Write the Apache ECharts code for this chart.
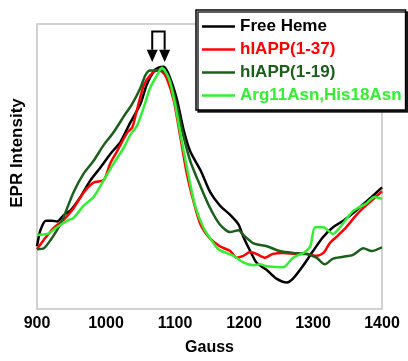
<!DOCTYPE html>
<html>
<head>
<meta charset="utf-8">
<script src="https://cdn.jsdelivr.net/npm/echarts@6/dist/echarts.min.js"></script>
<style>html,body{margin:0;padding:0;background:#fff;}#c{width:408px;height:361px;}</style>
</head>
<body>
<div id="c"></div>
<script>
var FONT = 'Liberation Sans, Arial, sans-serif';
var seriesNames = ['Free Heme', 'hIAPP(1-37)', 'hIAPP(1-19)', 'Arg11Asn,His18Asn'];
var seriesColors = ['#000000', '#ff0000', '#1c5e1c', '#33ee33'];
var xTicks = [900, 1000, 1100, 1200, 1300, 1400];

var freeHeme = [[900,66],[905,83],[913,93],[922,93],[929,92],[939,99],[949,104],[963,118],[978,136],[992,149],[1006,163],[1021,176],[1035,196],[1050,216],[1059,236],[1069,250],[1076,254],[1084,255],[1093,243],[1103,220],[1112,190],[1122,166],[1137,146],[1151,123],[1165,109],[1180,99],[1192,89],[1199,76],[1209,61],[1218,49],[1233,41],[1247,32],[1262,28],[1271,32],[1286,46],[1300,61],[1315,76],[1329,86],[1344,93],[1363,104],[1382,116],[1400,128]];
var hiapp137 = [[900,63],[910,73],[925,86],[939,94],[953,106],[968,123],[982,133],[997,136],[1006,153],[1016,166],[1031,186],[1038,191],[1045,210],[1055,236],[1064,246],[1074,251],[1081,250],[1088,243],[1098,220],[1108,180],[1117,143],[1127,113],[1137,89],[1151,74],[1165,66],[1180,61],[1189,54],[1199,56],[1209,60],[1218,58],[1230,54],[1242,58],[1257,59],[1276,58],[1291,58],[1305,56],[1315,59],[1324,69],[1334,76],[1348,86],[1363,99],[1377,109],[1400,124]];
var hiapp119 = [[900,63],[910,64],[920,73],[929,83],[937,94],[953,123],[968,143],[982,156],[997,173],[1011,186],[1026,203],[1038,216],[1050,233],[1057,246],[1064,251],[1074,251],[1084,250],[1093,240],[1103,213],[1112,183],[1122,156],[1137,129],[1151,106],[1165,89],[1180,81],[1192,83],[1199,78],[1214,69],[1233,66],[1252,61],[1271,59],[1291,58],[1305,54],[1317,47],[1329,53],[1344,55],[1358,57],[1373,64],[1385,61],[1400,65]];
var argHis = [[900,78],[915,79],[929,86],[944,93],[953,96],[968,109],[982,118],[997,136],[1011,153],[1026,170],[1035,183],[1045,193],[1055,213],[1064,233],[1074,246],[1081,254],[1091,243],[1100,216],[1110,176],[1120,139],[1129,109],[1141,86],[1156,69],[1165,62],[1185,56],[1199,49],[1214,46],[1223,47],[1233,45],[1257,44],[1271,54],[1286,59],[1296,66],[1303,86],[1315,86],[1329,79],[1339,86],[1358,103],[1377,111],[1389,118],[1400,116]];
var seriesData = [freeHeme, hiapp137, hiapp119, argHis];

// Arrow annotation: positions in Gauss and intensity units
var arrowGauss = [1067, 1085];
var arrowTipValue = 260;
var arrowHeadTopValue = 273;
var bracketTopValue = 292;

var chart = echarts.init(document.getElementById('c'), null, {renderer: 'canvas'});

var series = seriesNames.map(function (n, i) {
  return {
    name: n, type: 'line', data: seriesData[i], symbol: 'none', smooth: 0.25,
    lineStyle: {color: seriesColors[i], width: 2.5},
    itemStyle: {color: seriesColors[i]},
    z: 2 + i
  };
});

chart.setOption({
  animation: false,
  backgroundColor: '#ffffff',
  grid: {left: 37, right: 26, top: 24, bottom: 39, show: true, borderColor: '#c4c4c4', borderWidth: 1.5, backgroundColor: 'transparent'},
  xAxis: {
    type: 'value', min: 900, max: 1400, interval: 100,
    axisLine: {show: false}, axisTick: {show: false}, splitLine: {show: false},
    axisLabel: {color: '#000', fontFamily: FONT, fontWeight: 'bold', fontSize: 16, margin: 7,
      formatter: function (v) { return xTicks.indexOf(v) >= 0 ? String(v) : ''; }},
    name: 'Gauss', nameLocation: 'middle', nameGap: 31,
    nameTextStyle: {color: '#000', fontFamily: FONT, fontWeight: 'bold', fontSize: 16}
  },
  yAxis: {
    type: 'value', min: 0, max: 300,
    axisLine: {show: false}, axisTick: {show: false}, splitLine: {show: false},
    axisLabel: {show: false}
  },
  legend: {
    orient: 'vertical', left: 196, top: 10,
    padding: [5, 4, 3, 6], itemGap: 0, itemWidth: 33, itemHeight: 2.5, icon: 'rect',
    backgroundColor: '#fff', borderColor: '#000', borderWidth: 1.5,
    shadowColor: 'rgba(0,0,0,0.85)', shadowOffsetX: 2, shadowOffsetY: 2, shadowBlur: 0,
    data: seriesNames.map(function (n, i) {
      return {name: n, textStyle: {color: seriesColors[i]}};
    }),
    textStyle: {fontFamily: FONT, fontWeight: 'bold', fontSize: 17, lineHeight: 23, padding: [0, 0, 0, 0]}
  },
  series: series
});

// Arrows placed via the chart's scales
var g = [];
var tipY = chart.convertToPixel({gridIndex: 0}, [arrowGauss[0], arrowTipValue])[1];
var headY = chart.convertToPixel({gridIndex: 0}, [arrowGauss[0], arrowHeadTopValue])[1];
var topY = chart.convertToPixel({gridIndex: 0}, [arrowGauss[0], bracketTopValue])[1];
var xs = arrowGauss.map(function (gv) { return chart.convertToPixel({gridIndex: 0}, [gv, 0])[0]; });
g.push({type: 'polyline', shape: {points: [[xs[0], headY], [xs[0], topY], [xs[1], topY], [xs[1], headY]]},
  style: {stroke: '#000', lineWidth: 2, fill: null}, z: 100});
xs.forEach(function (x) {
  g.push({type: 'polygon', shape: {points: [[x - 5.5, headY], [x + 5.5, headY], [x, tipY]]},
    style: {fill: '#000'}, z: 100});
});
g.push({
  type: 'text', x: 17, y: 153, rotation: Math.PI / 2,
  style: {text: 'EPR Intensity', fill: '#000', font: 'bold 17px ' + FONT, align: 'center', verticalAlign: 'middle'}
});
chart.setOption({graphic: g});
</script>
</body>
</html>
